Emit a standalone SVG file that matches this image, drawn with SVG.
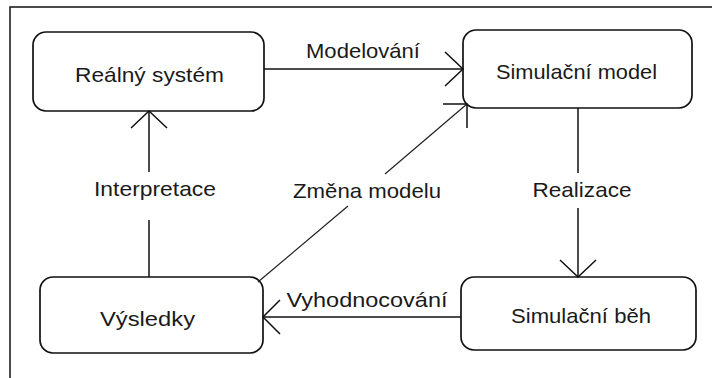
<svg xmlns="http://www.w3.org/2000/svg" width="712" height="378" viewBox="0 0 712 378">
<style>
.box{fill:#fff;stroke:#111;stroke-width:1.7}
.ln{fill:none;stroke:#111;stroke-width:1.5}
.thin{fill:none;stroke:#222;stroke-width:1.2}
.t{font-family:"Liberation Sans",Arial,sans-serif;font-size:21px;fill:#1a1a1a;text-anchor:middle}
</style>
<rect width="712" height="378" fill="#fff"/>
<path class="ln" d="M10,378 V7 H712" stroke-width="2"/>
<g id="realny-system">
  <rect class="box" x="33" y="32" width="231" height="79" rx="13"/>
  <text class="t" x="149.5" y="82" textLength="149" lengthAdjust="spacingAndGlyphs">Reálný systém</text>
</g>
<g id="simulacni-model">
  <rect class="box" x="463" y="30" width="229" height="78" rx="13"/>
  <text class="t" x="576.5" y="79" textLength="161" lengthAdjust="spacingAndGlyphs">Simulační model</text>
</g>
<g id="vysledky">
  <rect class="box" x="40" y="277" width="223" height="76" rx="13"/>
  <text class="t" x="147.5" y="326" textLength="95" lengthAdjust="spacingAndGlyphs">Výsledky</text>
</g>
<g id="simulacni-beh">
  <rect class="box" x="461" y="277" width="235" height="73" rx="13"/>
  <text class="t" x="581" y="323" textLength="140" lengthAdjust="spacingAndGlyphs">Simulační běh</text>
</g>
<g id="connectors">
  <g id="modelovani">
    <line class="ln" x1="264" y1="69" x2="463" y2="69"/>
    <path class="ln" d="M445,52 L463,69 L445,86"/>
    <text class="t" x="363" y="58" textLength="114" lengthAdjust="spacingAndGlyphs">Modelování</text>
  </g>
  <g id="interpretace">
    <line class="ln" x1="149" y1="277" x2="149" y2="220"/>
    <line class="ln" x1="149" y1="172" x2="149" y2="111"/>
    <path class="ln" d="M131,128 L149,111 L167,128"/>
    <text class="t" x="155" y="196" textLength="122" lengthAdjust="spacingAndGlyphs">Interpretace</text>
  </g>
  <g id="realizace">
    <line class="ln" x1="578" y1="108" x2="578" y2="173"/>
    <line class="ln" x1="578" y1="208" x2="578" y2="277"/>
    <path class="ln" d="M560,260 L578,277 L596,260"/>
    <text class="t" x="582" y="197" textLength="99" lengthAdjust="spacingAndGlyphs">Realizace</text>
  </g>
  <g id="vyhodnocovani">
    <line class="ln" x1="461" y1="317" x2="263" y2="317"/>
    <path class="ln" d="M280,300 L263,317 L280,334"/>
    <text class="t" x="367" y="307" textLength="161" lengthAdjust="spacingAndGlyphs">Vyhodnocování</text>
  </g>
  <g id="zmena">
    <line class="thin" x1="258" y1="282" x2="348" y2="206"/>
    <line class="thin" x1="385" y1="174" x2="467" y2="104"/>
    <path class="ln" d="M443,104 L467,104 L467,128"/>
    <text class="t" x="367" y="198" textLength="148" lengthAdjust="spacingAndGlyphs">Změna modelu</text>
  </g>
</g>
</svg>
